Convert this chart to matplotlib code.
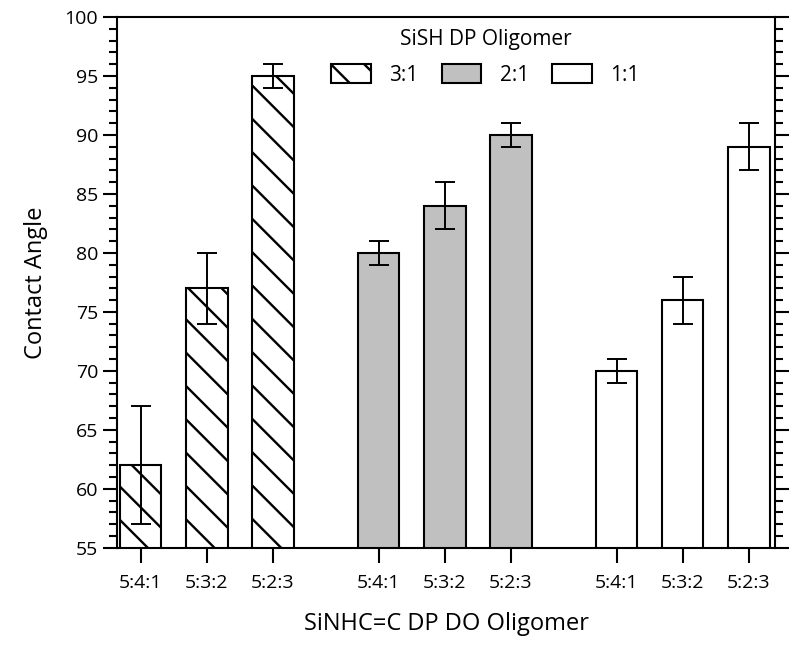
import numpy as np
import matplotlib.pyplot as plt
from matplotlib.ticker import MultipleLocator

plt.rcParams['font.family'] = ['Open Sans', 'DejaVu Sans']
plt.rcParams['hatch.linewidth'] = 1.7

# データ
ratios = ['5:4:1', '5:3:2', '5:2:3']
groups = ['3:1', '2:1', '1:1']
angle = [[62, 77, 95], [80, 84, 90], [70, 76, 89]]
err = [[5, 3, 1], [1, 2, 1], [1, 2, 2]]

# 見た目
fills = ['white', '#c0c0c0', 'white']
hatches = ['\\', '', '']
offsets = [0, 3.6, 7.2]

fig = plt.figure(figsize=(8, 6.56), dpi=100)
ax = fig.add_axes([0.146, 0.165, 0.823, 0.809])

xt = []
for g in range(3):
    x = np.arange(3) + offsets[g]
    ax.bar(x, angle[g], width=0.63, bottom=0, color=fills[g], edgecolor='black',
           linewidth=1.5, hatch=hatches[g], label=groups[g])
    ax.errorbar(x, angle[g], yerr=err[g], fmt='none', ecolor='black',
                elinewidth=1.4, capsize=7, capthick=1.4)
    xt += list(x)

ax.set_ylim(55, 100)
ax.set_xlim(-0.36, 9.6)
ax.set_xticks(xt)
ax.set_xticklabels(ratios * 3, fontsize=14)
ax.yaxis.set_major_locator(MultipleLocator(5))
ax.yaxis.set_minor_locator(MultipleLocator(1))
ax.tick_params(axis='y', which='major', direction='out', length=10, width=1.5,
               labelsize=14, right=True)
ax.tick_params(axis='y', which='minor', direction='out', length=5.5, width=1.5, right=True)
ax.tick_params(axis='x', direction='out', length=11, width=1.5, pad=8)
for s in ax.spines.values():
    s.set_linewidth(1.5)

ax.set_ylabel('Contact Angle', fontsize=17, labelpad=12)
ax.set_xlabel('SiNHC=C DP DO Oligomer', fontsize=17, labelpad=14)

leg = ax.legend(ncol=3, frameon=False, title='SiSH DP Oligomer', fontsize=15,
                title_fontsize=15, loc='upper center', bbox_to_anchor=(0.56, 1.012),
                handlelength=1.9, handleheight=1.0, handletextpad=0.9,
                columnspacing=1.1)
leg._legend_box.sep = 10

fig.savefig('out.png', dpi=100)
